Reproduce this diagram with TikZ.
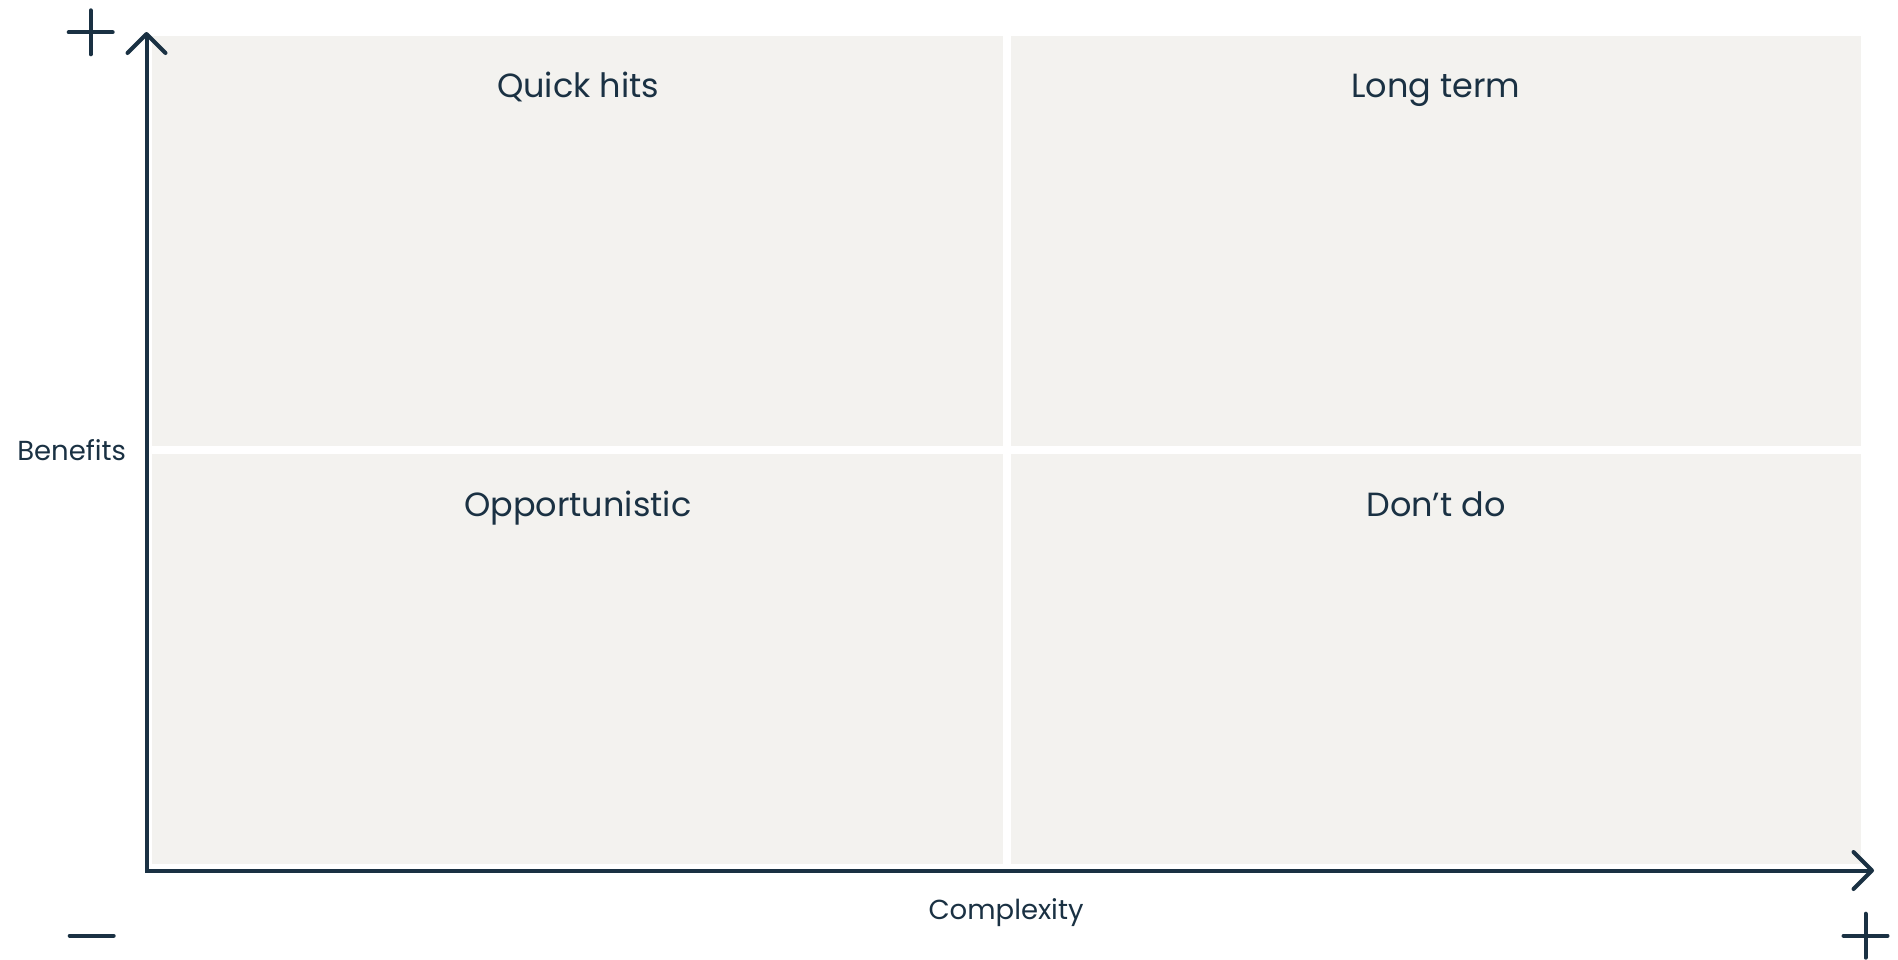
\documentclass[tikz,border=0pt]{standalone}
\usepackage{fontspec}
\setmainfont{Poppins}
\definecolor{ink}{HTML}{1A3143}
\definecolor{quad}{HTML}{F3F2EF}
\begin{document}
\begin{tikzpicture}[x=1pt,y=-1pt,
  quadbox/.style={fill=quad,draw=none},
  axis/.style={draw=ink,line width=4pt,line join=miter},
  chevron/.style={draw=ink,line width=4pt,line cap=round,line join=round},
  sign/.style={draw=ink,line width=4pt,line cap=round},
  qlabel/.style={anchor=base,text=ink,inner sep=0pt,font=\fontsize{33.5}{40}\selectfont},
  alabel/.style={anchor=base,text=ink,inner sep=0pt,font=\fontsize{27.5}{32}\selectfont}]
\fill[white] (0,0) rectangle (1898,959);
\useasboundingbox (0,0) rectangle (1898,959);
% quadrants
\path[quadbox] (151.7,35.7) rectangle (1003,446.3);
\path[quadbox] (1011,35.7) rectangle (1860.7,446.3);
\path[quadbox] (151.7,454.3) rectangle (1003,864.3);
\path[quadbox] (1011,454.3) rectangle (1860.7,864.3);
% labels
\node[qlabel] (qh) at (578,97.7) {Quick hits};
\node[qlabel] (lt) at (1435.9,97.7) {Long term};
\node[qlabel] (op) at (577.8,516.7) {Opportunistic};
\node[qlabel] (dd) at (1435.9,516.7) {Don’t do};
\node[alabel] (ben) at (71.7,460) {Benefits};
\node[alabel] (cpx) at (1006,919) {Complexity};
% axes
\coordinate (origin) at (146.5,870.5);
\coordinate (ytip) at (146.5,34);
\coordinate (xtip) at (1872,870.5);
\draw[axis] (ytip) -- (origin) -- (xtip);
\draw[chevron] ([shift={(-19,19)}]ytip) -- (ytip) -- ([shift={(19,19)}]ytip);
\draw[chevron] ([shift={(-18.5,-18.5)}]xtip) -- (xtip) -- ([shift={(-18.5,18.5)}]xtip);
% signs
\coordinate (plusA) at (90.7,32.3);
\coordinate (minusA) at (91.7,935.7);
\coordinate (plusB) at (1865.5,935.7);
\draw[sign] ([shift={(-22,0)}]plusA) -- ([shift={(22,0)}]plusA);
\draw[sign] ([shift={(0,-22)}]plusA) -- ([shift={(0,22)}]plusA);
\draw[sign] ([shift={(-22,0)}]minusA) -- ([shift={(22,0)}]minusA);
\draw[sign] ([shift={(-22,0)}]plusB) -- ([shift={(22,0)}]plusB);
\draw[sign] ([shift={(0,-22)}]plusB) -- ([shift={(0,22)}]plusB);
\end{tikzpicture}
\end{document}
